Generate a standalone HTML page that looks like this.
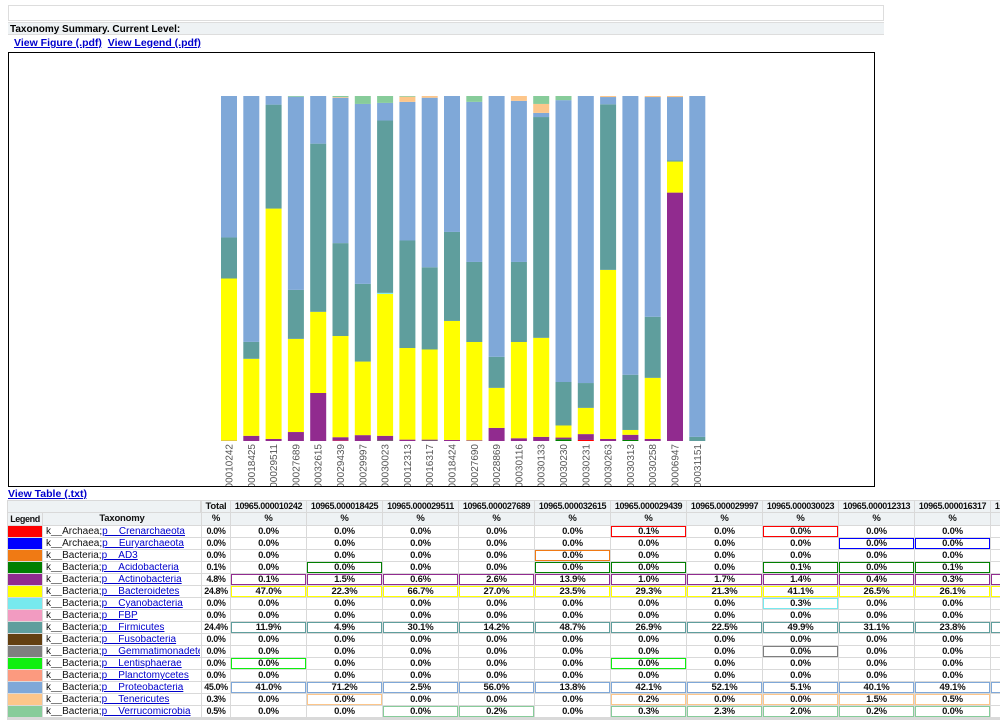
<!DOCTYPE html>
<html><head><meta charset="utf-8">
<style>
body{margin:0;width:1000px;height:724px;overflow:hidden;background:#fff;font-family:"Liberation Sans",Arial,sans-serif;position:relative}
.abs{position:absolute}
a{color:#00c;text-decoration:underline}
.cell{position:absolute;box-sizing:border-box;background:#fff;font-size:9.5px;line-height:10px;text-align:center;font-weight:bold;color:#111;white-space:nowrap;overflow:hidden;border:1px solid transparent;letter-spacing:-0.2px}
.hd{background:#eef2f4}
</style></head><body>
<div class="abs" style="left:8px;top:5px;width:874px;height:14px;border:1px solid #ddd"></div>
<div class="abs" style="left:8px;top:22px;width:876px;height:13px;background:#eef2f4;border-top:1px solid #ddd;border-bottom:1px solid #ddd;font-size:10px;font-weight:bold;line-height:13px;padding-left:2px;box-sizing:border-box">Taxonomy Summary. Current Level:</div>
<div class="abs" style="left:14px;top:37px;font-size:10.5px;font-weight:bold">
<a href="#">View Figure (.pdf)</a>&nbsp;
<a href="#">View Legend (.pdf)</a></div>
<svg id="chart" class="abs" style="left:8px;top:52px" width="867" height="435"></svg>
<a href="#" class="abs" style="left:8px;top:488px;font-size:10.5px;font-weight:bold">View Table (.txt)</a>
<div id="tbl" class="abs" style="left:7px;top:500px;width:993px;height:220px;background:#d9d9d9;overflow:hidden"></div>
<script>
const samples=["10965.000010242","10965.000018425","10965.000029511","10965.000027689","10965.000032615","10965.000029439","10965.000029997","10965.000030023","10965.000012313","10965.000016317","10965.000018424","10965.000027690","10965.000028869","10965.000030116","10965.000030133","10965.000030230","10965.000030231","10965.000030263","10965.000030313","10965.000030258","10965.000006947","10965.000031151"];
const cren=[0,0,0,0,0,0.1,0,0,0,0,0,0,0,0,0,0,0.3,0,0,0,0,0];
const acido=[0,0,0,0,0,0,0,0.1,0,0.1,0,0,0,0,0,0.5,0,0,0.3,0,0,0];
const actino=[0.1,1.5,0.6,2.6,13.9,1.0,1.7,1.4,0.4,0.3,0.3,0.2,3.8,0.8,1.2,0.5,1.7,0.6,1.5,0.6,72,0];
const bacte=[47.0,22.3,66.7,27.0,23.5,29.3,21.3,41.1,26.5,26.1,34.5,28.5,11.6,27.9,28.7,3.5,7.6,49,1.4,17.7,9,0];
const cyano=[0,0,0,0,0,0,0,0.3,0,0,0,0,0,0,0,0,0,0,0,0,0,0];
const firmi=[11.9,4.9,30.1,14.2,48.7,26.9,22.5,49.9,31.1,23.8,25.8,23.2,9,23.2,64,12.6,7.2,48,16,17.7,0.3,1.2];
const prote=[41.0,71.2,2.5,56.0,13.8,42.1,52.1,5.1,40.1,49.1,39.4,46.4,75.6,46.7,1.2,81.7,83.2,2.1,80.8,63.7,18.4,98.8];
const teneri=[0,0,0,0,0,0.2,0,0,1.5,0.5,0,0,0,1.4,2.6,0,0,0.3,0,0.3,0.3,0];
const verru=[0,0,0,0.2,0,0.3,2.3,2.0,0.2,0,0,1.7,0,0,2.3,1.2,0,0,0,0,0,0];
const series=[["crenarchaeota",cren,"#ff0000"],["acidobacteria",acido,"#008000"],["actinobacteria",actino,"#912b8f"],["bacteroidetes",bacte,"#ffff00"],["cyanobacteria",cyano,"#77e9ee"],["firmicutes",firmi,"#5f9e9d"],["proteobacteria",prote,"#7fa8d8"],["tenericutes",teneri,"#fdc68a"],["verrucomicrobia",verru,"#87cc9a"]];
const NS="http://www.w3.org/2000/svg";
const svg=document.getElementById('chart');
const x0=213,pitch=22.3,bw=16,yTop=44,yBot=389;
function xPos(i){return x0+i*pitch;}
function yScale(v){return yBot-(v/100)*(yBot-yTop);}
samples.forEach((s,i)=>{
  let tot=0;series.forEach(se=>tot+=se[1][i]);
  let cum=0;
  series.forEach(se=>{
    const v=se[1][i]/tot*100;if(v<=0)return;
    const r=document.createElementNS(NS,'rect');
    
    
    r.setAttribute('x',xPos(i));r.setAttribute('width',bw);
    r.setAttribute('y',yScale(cum+v));r.setAttribute('height',yScale(cum)-yScale(cum+v));
    r.setAttribute('fill',se[2]);svg.appendChild(r);cum+=v;
  });
  const t=document.createElementNS(NS,'text');
  
  
  const cx=xPos(i)+bw/2+3.5,cy=yBot+3;
  t.setAttribute('transform','translate('+cx+','+cy+') rotate(-90)');
  t.setAttribute('text-anchor','end');t.setAttribute('font-size','10');t.setAttribute('fill','#555');
  t.setAttribute('font-family','Liberation Sans, sans-serif');
  t.textContent=s;svg.appendChild(t);
});
const fr=document.createElementNS(NS,'rect');


fr.setAttribute('x',0.5);fr.setAttribute('y',0.5);fr.setAttribute('width',866);fr.setAttribute('height',434);
fr.setAttribute('fill','none');fr.setAttribute('stroke','#000');svg.appendChild(fr);

const taxa=[["k__Archaea;","p__Crenarchaeota","#ff0000"],["k__Archaea;","p__Euryarchaeota","#0000ff"],["k__Bacteria;","p__AD3","#f07a14"],["k__Bacteria;","p__Acidobacteria","#017f01"],["k__Bacteria;","p__Actinobacteria","#912b8f"],["k__Bacteria;","p__Bacteroidetes","#ffff00"],["k__Bacteria;","p__Cyanobacteria","#77e9ee"],["k__Bacteria;","p__FBP","#f29bc1"],["k__Bacteria;","p__Firmicutes","#5f9e9d"],["k__Bacteria;","p__Fusobacteria","#633f10"],["k__Bacteria;","p__Gemmatimonadetes","#7f7f7f"],["k__Bacteria;","p__Lentisphaerae","#0fef0f"],["k__Bacteria;","p__Planctomycetes","#fc9a7f"],["k__Bacteria;","p__Proteobacteria","#7fa8d8"],["k__Bacteria;","p__Tenericutes","#fdc68a"],["k__Bacteria;","p__Verrucomicrobia","#87cc9a"]];
const totals=[0.0,0.0,0.0,0.1,4.8,24.8,0.0,0.0,24.4,0.0,0.0,0.0,0.0,45.0,0.3,0.5];
const tv=[[0,0,0,0,0,0.1,0,0,0,0,0],[0,0,0,0,0,0,0,0,0,0,0],[0,0,0,0,0,0,0,0,0,0,0],[0,0,0,0,0,0,0,0.1,0,0.1,0],
[0.1,1.5,0.6,2.6,13.9,1.0,1.7,1.4,0.4,0.3,0.3],[47.0,22.3,66.7,27.0,23.5,29.3,21.3,41.1,26.5,26.1,34.5],[0,0,0,0,0,0,0,0.3,0,0,0],[0,0,0,0,0,0,0,0,0,0,0],
[11.9,4.9,30.1,14.2,48.7,26.9,22.5,49.9,31.1,23.8,25.8],[0,0,0,0,0,0,0,0,0,0,0],[0,0,0,0,0,0,0,0,0,0,0],[0,0,0,0,0,0,0,0,0,0,0],[0,0,0,0,0,0,0,0,0,0,0],
[41.0,71.2,2.5,56.0,13.8,42.1,52.1,5.1,40.1,49.1,39.4],[0,0,0,0,0,0.2,0,0,1.5,0.5,0],[0,0,0,0.2,0,0.3,2.3,2.0,0.2,0,0]];
const outlined=[[5,7],[8,9],[4],[1,4,5,7,8,9],[0,1,2,3,4,5,6,7,8,9,10],[0,1,2,3,4,5,6,7,8,9,10],[7],[],[0,1,2,3,4,5,6,7,8,9,10],[],[7],[0,5],[],[0,1,2,3,4,5,6,7,8,9,10],[1,5,6,7,8,9],[2,3,5,6,7,8,9]];
const tbl=document.getElementById('tbl');
const colX=[1,36,195,224,300,376,452,528,604,680,756,832,908,984];
const colW=[34,158,28,75,75,75,75,75,75,75,75,75,75,75];
function cell(l,t,w,h,txt,cls){const d=document.createElement('div');d.className='cell '+(cls||'');d.style.left=l+'px';d.style.top=t+'px';d.style.width=w+'px';d.style.height=h+'px';d.style.lineHeight=(h-2)+'px';if(txt!==undefined)d.textContent=txt;tbl.appendChild(d);return d;}
let c=cell(1,1,192,11,'','hd');


c=cell(colX[2],1,colW[2],11,'Total','hd');


for(let j=0;j<11;j++){c=cell(colX[3+j],1,colW[3+j],11,samples[j],'hd');c.style.fontSize='9px';c.style.letterSpacing='-0.35px';

}
c=cell(colX[0],13,colW[0],12,'Legend','hd');c.style.fontSize='9px';c.style.letterSpacing='-0.4px';


c=cell(colX[1],13,colW[1],12,'Taxonomy','hd');


for(let j=0;j<12;j++){c=cell(colX[2+j],13,colW[2+j],12,'%','hd');

}
taxa.forEach((tx,r)=>{
  const y=26+r*12;
  const sw=cell(colX[0],y,colW[0],11,'');sw.style.background=tx[2];
  
  
  const tc=cell(colX[1],y,colW[1],11,'');tc.style.textAlign='left';tc.style.fontWeight='normal';tc.style.paddingLeft='2px';tc.style.letterSpacing='0';tc.style.fontSize='10px';
  tc.innerHTML=tx[0]+'<a href="#">'+tx[1]+'</a>';
  
  
  const tt=cell(colX[2],y,colW[2],11,totals[r].toFixed(1)+'%');tt.style.fontSize='9px';tt.style.letterSpacing='-0.4px';
  
  
  for(let j=0;j<11;j++){
    const vc=cell(colX[3+j],y,colW[3+j],11,tv[r][j].toFixed(1)+'%');
    if(outlined[r].includes(j))vc.style.borderColor=tx[2];
    
    
  }
});
</script>
</body></html>
